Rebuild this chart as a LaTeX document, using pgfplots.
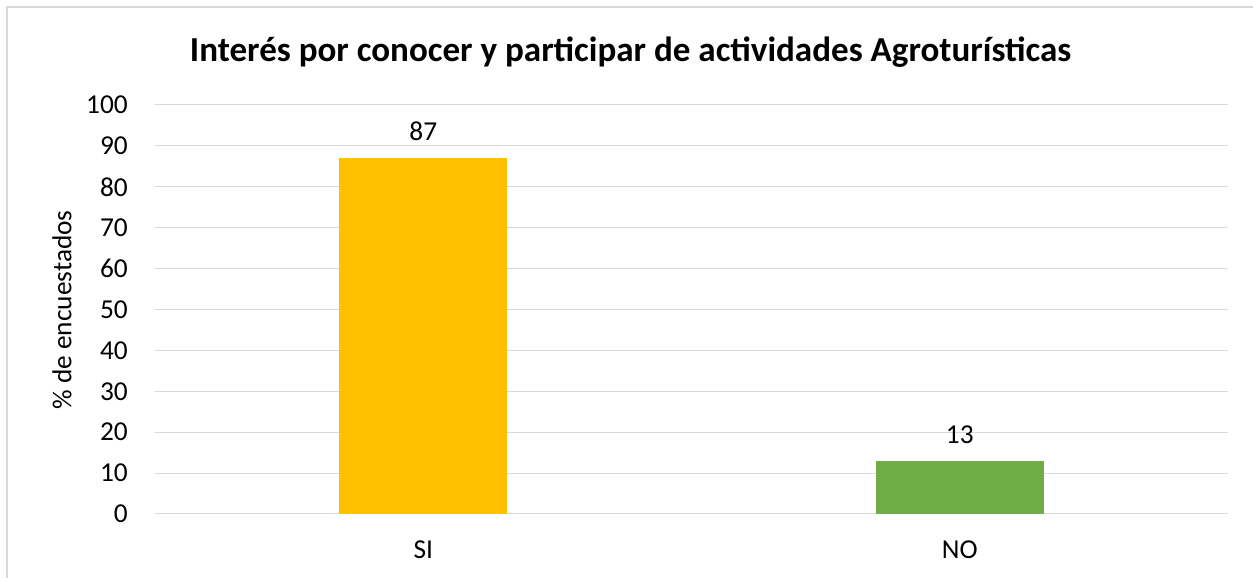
\documentclass[border=0pt]{standalone}
\usepackage{fontspec}
\setmainfont{Carlito}
\usepackage{pgfplots}
\pgfplotsset{compat=1.18}
\definecolor{gridgray}{HTML}{D9D9D9}
\definecolor{siyellow}{HTML}{FFC000}
\definecolor{nogreen}{HTML}{70AD47}
\begin{document}
\begin{tikzpicture}
\useasboundingbox (0,0) rectangle (939.75pt,433.5pt);
\draw[gridgray, line width=0.9pt] (5.25pt,0) -- (5.25pt,428.25pt) -- (939.75pt,428.25pt);
\node[anchor=base, font=\fontsize{26.3}{31}\selectfont\bfseries] at (473pt,387pt) {Interés por conocer y participar de actividades Agroturísticas};
\node[rotate=90, anchor=center, font=\fontsize{20.5}{24}\selectfont] at (46.5pt,201pt) {\% de encuestados};
\begin{axis}[
  at={(116.25pt,48pt)}, anchor=south west,
  scale only axis, width=804.75pt, height=306.75pt,
  xmin=-0.5, xmax=1.5, ymin=0, ymax=100,
  ytick={0,10,...,100},
  xtick={0,1}, xticklabels={SI,NO},
  axis line style={draw=none},
  major tick length=0pt,
  ymajorgrids, grid style={gridgray, line width=0.75pt},
  /pgf/number format/assume math mode=true,
  ticklabel style={font=\fontsize{20.5}{24}\selectfont, inner sep=0pt},
  yticklabel style={anchor=east, xshift=-20.25pt},
  xticklabel style={anchor=center, yshift=-27pt},
  ybar, bar width=126pt, bar shift=0pt,
  nodes near coords,
  nodes near coords style={font=\fontsize{20.5}{24}\selectfont, anchor=south, inner sep=0pt, yshift=13pt, black},
  every node near coord/.append style={/pgf/number format/assume math mode=true},
  clip=false,
]
\addplot[draw=none, fill=siyellow] coordinates {(0,87)};
\addplot[draw=none, fill=nogreen] coordinates {(1,13)};
\end{axis}
\end{tikzpicture}
\end{document}
